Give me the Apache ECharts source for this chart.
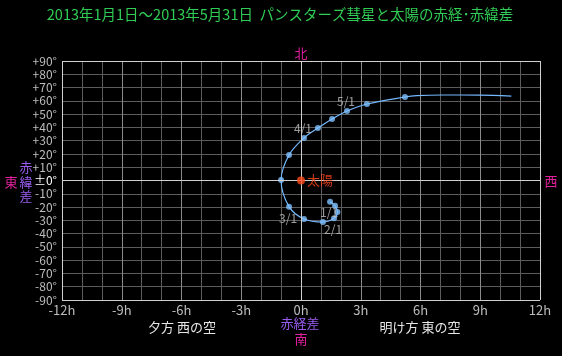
<!DOCTYPE html>
<html>
<head>
<meta charset="utf-8">
<script src="https://cdn.jsdelivr.net/npm/echarts@6/dist/echarts.min.js"></script>
<style>
html,body{margin:0;padding:0;background:#000;}
#chart{width:562px;height:356px;}
</style>
</head>
<body>
<div id="chart"></div>
<script>
// ---- data ----
// comet (PANSTARRS) minus Sun : RA difference in hours, Dec difference in degrees, every ~10 days
const markDates = ['1/1','1/11','1/21','2/1','2/11','2/21','3/1','3/11','3/21','4/1','4/11','4/21','5/1','5/11','5/21'];
const markRa    = [1.46, 1.71, 1.83, 1.66, 1.10, 0.15, -0.60, -1.00, -0.60, 0.15, 0.85, 1.56, 2.31, 3.31, 5.22];
const markDec   = [-16.0, -19.0, -23.7, -28.5, -31.3, -29.0, -19.7, 0.4, 19.2, 32.0, 39.5, 46.3, 52.3, 57.6, 62.9];
// end of the path in late May (no markers)
const tailRa    = [5.81, 7.11, 8.97, 10.56];
const tailDec   = [63.9, 64.4, 64.3, 63.6];
// dates that are labelled on the path
const labelDates = ['1/1','2/1','3/1','4/1','5/1'];
// Sun at origin
const sunPoint = [0, 0];
const sunLabel = '太陽';
// axis ticks
const xTicks = [-12, -9, -6, -3, 0, 3, 6, 9, 12];
const yTicks = [-90,-80,-70,-60,-50,-40,-30,-20,-10,0,10,20,30,40,50,60,70,80,90];

const titleText = '2013年1月1日～2013年5月31日  パンスターズ彗星と太陽の赤経･赤緯差';

// ---- build ----
const markPts = markDates.map((d, i) => [markRa[i], markDec[i], d]);
const pathPts = markPts.map(p => [p[0], p[1]]).concat(tailRa.map((r, i) => [r, tailDec[i]]));
const labelOffsets = {
  '1/1': [-1, 11], '2/1': [-1, 11], '3/1': [-1, 12], '4/1': [-1, -10], '5/1': [-1, -10]
};
const labelPts = labelDates.map(d => {
  const i = markDates.indexOf(d);
  return { value: [markRa[i], markDec[i]], name: d,
    label: { show: true, position: 'inside', offset: labelOffsets[d], formatter: d } };
});

const FONT = '"Noto Sans CJK JP", sans-serif';
const MINOR = '#5c5c5c', MAJOR = '#8a8a8a', BRIGHT = '#d0d0d0';
const xSplitColors = [MAJOR, MINOR, MINOR];

const chart = echarts.init(document.getElementById('chart'), null, { renderer: 'canvas' });
chart.setOption({
  backgroundColor: '#000',
  animation: false,
  grid: { left: 62, right: 22, top: 61, bottom: 56, show: false },
  xAxis: {
    type: 'value', min: -12, max: 12, interval: 1,
    axisLine: { show: false }, axisTick: { show: false },
    splitLine: { show: true, lineStyle: { color: xSplitColors, width: 1 } },
    axisLabel: {
      color: '#bdbdbd', fontSize: 13, fontFamily: FONT, margin: 4,
      formatter: v => (xTicks.indexOf(v) >= 0 ? v + 'h' : '')
    }
  },
  yAxis: {
    type: 'value', min: -90, max: 90, interval: 10,
    axisLine: { show: false }, axisTick: { show: false },
    splitLine: { show: true, lineStyle: { color: MINOR, width: 1 } },
    axisLabel: {
      fontSize: 12, fontFamily: FONT, margin: 5, color: '#bdbdbd',
      formatter: v => {
        if (yTicks.indexOf(v) < 0) return '';
        if (v === 0) return '{z|±0°}';
        return (v > 0 ? '+' : '-') + Math.abs(v) + '°';
      },
      rich: { z: { color: '#ffffff', fontSize: 12, fontFamily: FONT } }
    }
  },
  series: [
    {
      type: 'line', data: pathPts, showSymbol: false, smooth: 0.35, silent: true,
      lineStyle: { color: '#74b8ff', width: 1.2 }, z: 3,
      markLine: {
        silent: true, symbol: 'none', animation: false,
        label: { show: false },
        lineStyle: { color: BRIGHT, width: 1, type: 'solid' },
        data: [{ xAxis: 0 }, { yAxis: 0 }, { xAxis: -12 }, { xAxis: 12 }, { yAxis: 90 }, { yAxis: -90 }]
      }
    },
    {
      type: 'scatter', data: markPts, symbol: 'circle', symbolSize: 6, z: 4,
      itemStyle: { color: '#80c0ff' }
    },
    {
      type: 'scatter', data: labelPts, symbolSize: 0, z: 5,
      label: { color: '#c0c0c0', fontSize: 12, fontFamily: FONT }
    },
    {
      type: 'scatter', data: [sunPoint], symbol: 'circle', symbolSize: 8, z: 5,
      itemStyle: { color: '#ff4a1c' },
      label: { show: true, position: 'right', distance: 2, formatter: sunLabel,
        color: '#ff4a1c', fontSize: 13, fontFamily: FONT }
    }
  ],
  graphic: [
    { type: 'text', x: 280, y: 14, style: { text: titleText, fill: '#30cc55', font: '14.5px ' + FONT, textAlign: 'center', textVerticalAlign: 'middle' } },
    { type: 'text', x: 301, y: 53, style: { text: '北', fill: '#e0209c', font: '13px ' + FONT, textAlign: 'center', textVerticalAlign: 'middle' } },
    { type: 'text', x: 301, y: 339, style: { text: '南', fill: '#e0209c', font: '13px ' + FONT, textAlign: 'center', textVerticalAlign: 'middle' } },
    { type: 'text', x: 300, y: 323, style: { text: '赤経差', fill: '#9a5cf0', font: '13px ' + FONT, textAlign: 'center', textVerticalAlign: 'middle' } },
    { type: 'text', x: 182, y: 327, style: { text: '夕方 西の空', fill: '#e6e6e6', font: '13px ' + FONT, textAlign: 'center', textVerticalAlign: 'middle' } },
    { type: 'text', x: 420, y: 327, style: { text: '明け方 東の空', fill: '#e6e6e6', font: '13px ' + FONT, textAlign: 'center', textVerticalAlign: 'middle' } },
    { type: 'text', x: 26, y: 167, style: { text: '赤', fill: '#9a5cf0', font: '13px ' + FONT, textAlign: 'center', textVerticalAlign: 'middle' } },
    { type: 'text', x: 26, y: 182, style: { text: '緯', fill: '#9a5cf0', font: '13px ' + FONT, textAlign: 'center', textVerticalAlign: 'middle' } },
    { type: 'text', x: 26, y: 196, style: { text: '差', fill: '#9a5cf0', font: '13px ' + FONT, textAlign: 'center', textVerticalAlign: 'middle' } },
    { type: 'text', x: 11, y: 182, style: { text: '東', fill: '#e0209c', font: '13px ' + FONT, textAlign: 'center', textVerticalAlign: 'middle' } },
    { type: 'text', x: 551, y: 181, style: { text: '西', fill: '#e0209c', font: '13px ' + FONT, textAlign: 'center', textVerticalAlign: 'middle' } }
  ]
});
</script>
</body>
</html>
